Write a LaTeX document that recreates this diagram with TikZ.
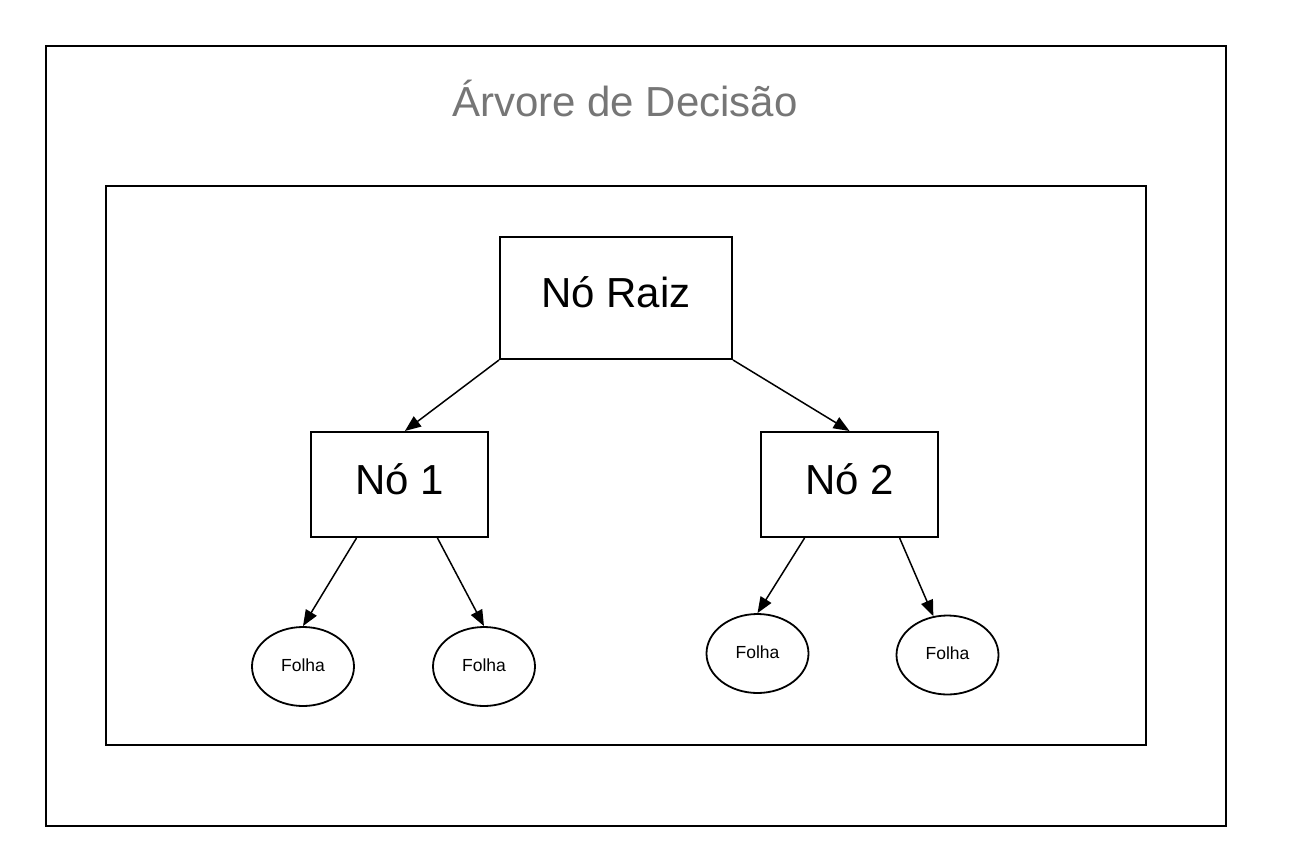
\documentclass[tikz,border=0pt]{standalone}
\usepackage{fontspec}
\setmainfont{Liberation Sans}
\usetikzlibrary{arrows.meta,shapes.geometric,calc}
\definecolor{titlegray}{RGB}{118,118,118}
\begin{document}
\begin{tikzpicture}[x=1pt,y=-1pt,
  frame/.style={draw=black,line width=2pt},
  box/.style={draw,line width=2pt,rectangle,inner sep=0pt,minimum width=177pt,minimum height=105pt,
    font=\fontsize{42}{50}\selectfont,text height=30pt,text depth=11pt},
  leaf/.style={draw,ellipse,line width=1.8pt,inner sep=0pt,minimum width=102pt,minimum height=79pt,
    font=\fontsize{17.5}{21}\selectfont,text height=13pt,text depth=4pt},
  conn/.style={line width=1.5pt,-{Triangle[length=16pt,width=12.5pt]}}]
\useasboundingbox (0,0) rectangle (1295,867);
\fill[white] (0,0) rectangle (1295,867);
\draw[frame] (46,46) rectangle (1226,826);
\draw[frame] (106,186) rectangle (1146,745);
\node[anchor=base,text=titlegray,font=\fontsize{42}{50}\selectfont,inner sep=0pt] (title) at (625,116) {Árvore de Decisão};
\node[box,minimum width=232pt,minimum height=122pt] (root) at (616,298) {Nó Raiz};
\node[box] (n1) at (399.5,484.5) {Nó 1};
\node[box] (n2) at (849.5,484.5) {Nó 2};
\node[leaf] (l1) at (303,666.5) {Folha};
\node[leaf] (l2) at (484,666.5) {Folha};
\node[leaf] (l3) at (757.5,653.5) {Folha};
\node[leaf] (l4) at (947.5,655) {Folha};
\draw[conn] (root.south west) -- ($(n1.north west)!0.53!(n1.north east)$);
\draw[conn] (root.south east) -- (n2.north);
\draw[conn] ($(n1.south west)!0.26!(n1.south east)$) -- (l1.north);
\draw[conn] ($(n1.south west)!0.712!(n1.south east)$) -- (l2.north);
\draw[conn] ($(n2.south west)!0.249!(n2.south east)$) -- (l3.north);
\draw[conn] ($(n2.south west)!0.78!(n2.south east)$) -- (l4.110);
\end{tikzpicture}
\end{document}
